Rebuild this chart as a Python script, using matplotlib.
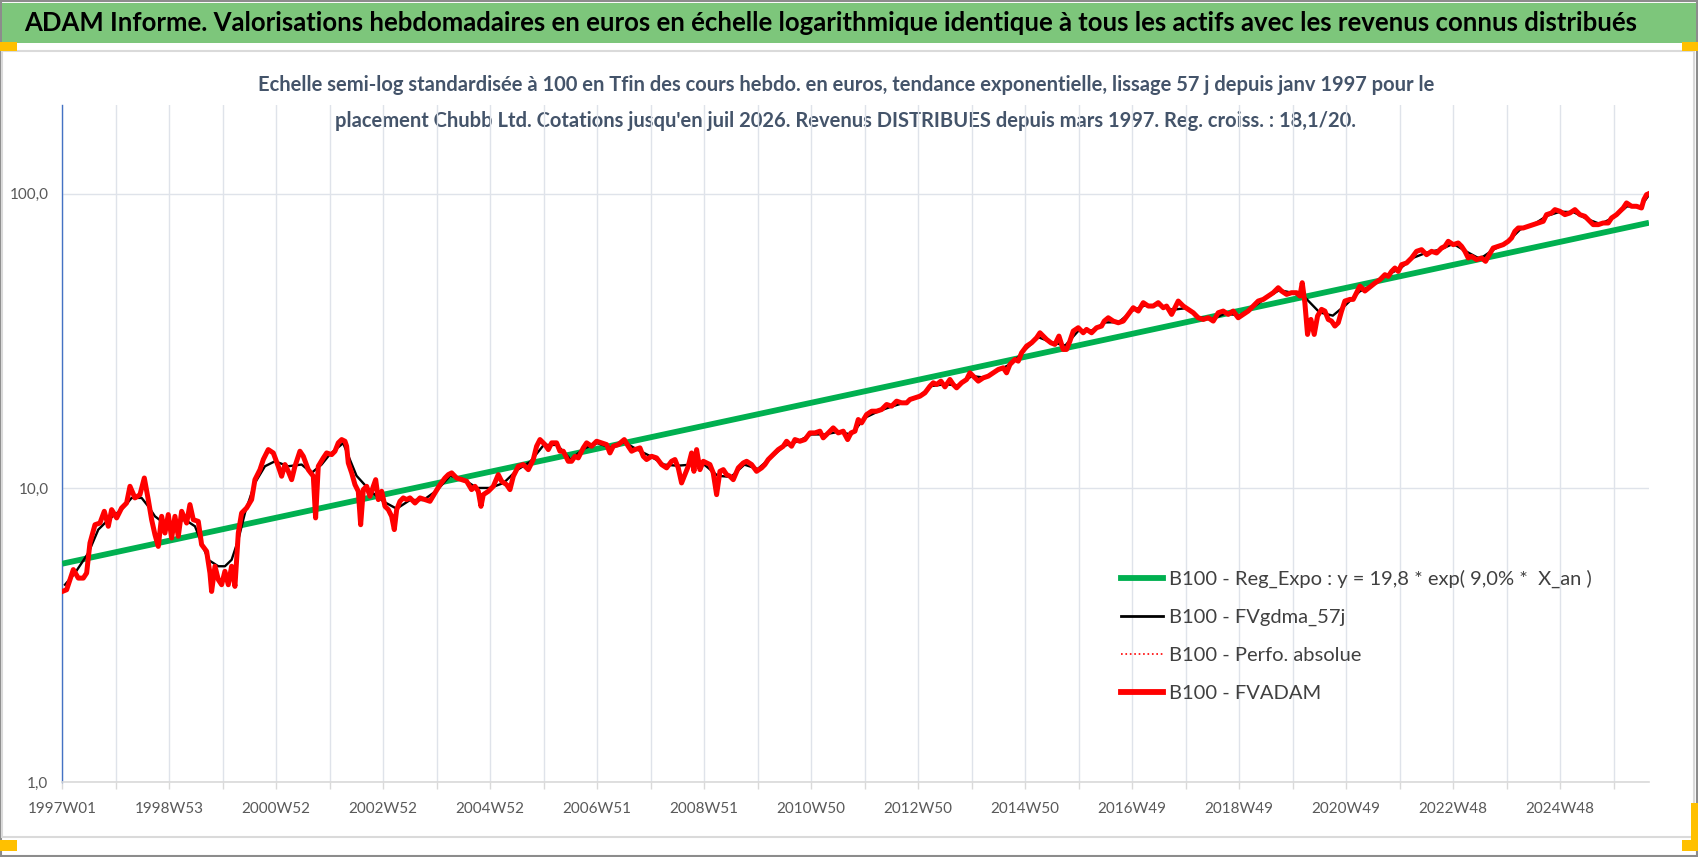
import matplotlib
matplotlib.use("Agg")
import matplotlib.pyplot as plt
from matplotlib.patches import Rectangle
from matplotlib.lines import Line2D

plt.rcParams['font.family'] = ['Lato', 'DejaVu Sans']

# FVADAM readings : years since 1997W01 -> base 100 value
red_t = [0.000, 0.081, 0.206, 0.299, 0.393, 0.455, 0.517, 0.611, 0.704, 0.785, 0.860, 0.922,
         1.016, 1.109, 1.202, 1.265, 1.358, 1.452, 1.533, 1.607, 1.670, 1.732, 1.794, 1.857,
         1.919, 1.981, 2.044, 2.106, 2.168, 2.231, 2.324, 2.386, 2.449, 2.542, 2.604, 2.698,
         2.760, 2.791, 2.854, 2.916, 2.978, 3.040, 3.103, 3.165, 3.227, 3.290, 3.352, 3.445,
         3.539, 3.601, 3.695, 3.757, 3.850, 3.944, 4.037, 4.100, 4.162, 4.224, 4.287, 4.349,
         4.442, 4.505, 4.598, 4.692, 4.735, 4.785, 4.879,
         4.941, 5.035, 5.097, 5.159, 5.222, 5.284, 5.315, 5.346, 5.409, 5.471, 5.533, 5.577,
         5.627, 5.689, 5.752, 5.814, 5.858, 5.907, 5.970, 6.032, 6.094, 6.156, 6.206, 6.250,
         6.312, 6.374, 6.437, 6.499, 6.593, 6.686, 6.780, 6.873, 6.966, 7.060, 7.153, 7.216,
         7.278, 7.371, 7.465, 7.558, 7.651, 7.714, 7.776, 7.826, 7.870, 7.963, 8.057, 8.150,
         8.212, 8.306, 8.368, 8.431, 8.524, 8.617, 8.711, 8.804, 8.866, 8.929, 9.022, 9.085,
         9.147, 9.240, 9.302, 9.365, 9.458, 9.520, 9.583, 9.645, 9.739,
         9.801, 9.894, 9.988, 10.081, 10.175, 10.237, 10.299, 10.393, 10.505, 10.579, 10.642,
         10.704, 10.798, 10.860, 10.922, 11.016, 11.109, 11.202, 11.296, 11.389, 11.452,
         11.514, 11.576, 11.639, 11.701, 11.763, 11.807, 11.857, 11.919, 11.982, 12.044,
         12.106, 12.168, 12.231, 12.293, 12.356, 12.418, 12.480, 12.542, 12.636, 12.729,
         12.792, 12.885, 12.978, 13.072, 13.134, 13.196, 13.290, 13.383, 13.477, 13.539,
         13.632, 13.695, 13.788, 13.882, 13.975, 14.069, 14.162, 14.224, 14.318, 14.411,
         14.505, 14.598,
         14.630, 14.680, 14.743, 14.817, 14.879, 14.942, 15.035, 15.129, 15.222, 15.316,
         15.409, 15.502, 15.596, 15.689, 15.783, 15.845, 15.938, 16.032, 16.125, 16.219,
         16.281, 16.343, 16.424, 16.499, 16.592, 16.655, 16.717, 16.810, 16.904, 16.966,
         17.029, 17.122, 17.215, 17.309, 17.402, 17.496, 17.589, 17.651, 17.714, 17.807,
         17.870, 17.932, 18.025, 18.119, 18.212, 18.275, 18.337, 18.399, 18.480, 18.555,
         18.630, 18.710, 18.773, 18.835, 18.897, 18.991, 19.084, 19.146, 19.240, 19.333,
         19.427, 19.477,
         19.552, 19.645, 19.739, 19.832, 19.926, 20.019, 20.113, 20.206, 20.300, 20.393,
         20.486, 20.580, 20.642, 20.736, 20.798, 20.860, 20.954, 21.047, 21.141, 21.234,
         21.327, 21.421, 21.514, 21.608, 21.701, 21.795, 21.888, 21.981, 22.075, 22.168,
         22.262, 22.355, 22.449, 22.542, 22.636, 22.729, 22.791, 22.885, 22.978, 23.072,
         23.134, 23.178, 23.227, 23.277, 23.340, 23.402, 23.464, 23.539, 23.601, 23.664,
         23.726, 23.788, 23.851, 23.913, 23.975, 24.069, 24.131, 24.193, 24.256, 24.349,
         24.536, 24.630, 24.723, 24.786, 24.848, 24.910, 24.973, 25.035, 25.128, 25.222,
         25.315, 25.409, 25.502, 25.596, 25.689, 25.783, 25.845, 25.907, 26.001, 26.094,
         26.156, 26.219, 26.281, 26.343, 26.437, 26.530, 26.605, 26.655, 26.748, 26.842,
         26.935, 27.029, 27.091, 27.153, 27.216, 27.309, 27.402, 27.496, 27.589, 27.683,
         27.745, 27.838, 27.901, 27.994, 28.088, 28.181, 28.275, 28.368, 28.462, 28.524,
         28.617, 28.711, 28.804, 28.898, 28.960, 29.053, 29.116, 29.178, 29.240, 29.334,
         29.427, 29.520, 29.564, 29.614, 29.657]
red_v = [4.45, 4.51, 5.28, 4.94, 4.94, 5.14, 6.50, 7.50, 7.60, 8.33, 7.41, 8.44,
         7.91, 8.55, 8.89, 10.13, 9.25, 9.49, 10.81, 9.13, 7.80, 6.94, 6.33, 8.01,
         7.03, 8.12, 6.76, 8.01, 6.85, 8.33, 7.60, 8.78, 7.80, 7.70, 6.42, 6.09,
         5.14, 4.45, 5.42, 4.88, 4.69, 5.21, 4.69, 5.42, 4.63, 7.03, 8.22, 8.55,
         9.13, 10.67, 11.54, 12.49, 13.50, 13.15, 11.85, 10.96, 12.01, 11.39, 10.67, 11.85,
         13.33, 12.81, 11.54, 10.96, 7.91, 11.85, 12.65,
         13.15, 12.98, 13.33, 14.23, 14.60, 14.41, 13.86, 12.16, 11.25, 10.26, 9.74, 7.50,
         9.87, 10.13, 9.37, 10.13, 10.67, 9.13, 9.74, 8.66, 8.44, 8.01, 7.22, 8.44,
         9.01, 9.25, 9.13, 9.25, 8.89, 9.25, 9.13, 9.01, 9.62, 10.26, 10.81, 11.10,
         11.25, 10.81, 10.67, 10.54, 9.87, 10.13, 9.74, 8.66, 9.49, 9.74, 10.13, 11.10,
         10.54, 10.26, 9.87, 10.96, 11.85, 12.01, 11.54, 12.49, 13.86, 14.60, 14.04, 13.50,
         14.23, 14.23, 13.33, 13.33, 12.32, 12.32, 12.81, 12.65, 13.68,
         14.23, 13.86, 14.41, 14.23, 14.04, 13.15, 13.86, 14.04, 14.60, 13.86, 13.33,
         13.50, 13.68, 12.81, 12.49, 12.81, 12.65, 12.01, 11.70, 12.32, 12.49,
         11.70, 10.40, 11.10, 11.85, 13.15, 11.39, 13.50, 11.54, 12.32, 12.16,
         12.01, 11.25, 9.49, 11.39, 11.54, 11.10, 10.96, 10.67, 11.70, 12.16,
         12.32, 12.01, 11.39, 11.70, 12.01, 12.49, 12.98, 13.50, 13.86, 14.41,
         13.86, 14.60, 14.41, 14.60, 15.38, 15.38, 15.59, 14.80, 15.38, 16.00,
         15.38, 15.59,
         15.18, 14.60, 15.38, 15.59, 17.08, 16.64, 17.76, 18.23, 18.23, 18.47,
         19.21, 18.96, 19.72, 19.46, 19.46, 19.98, 20.24, 20.50, 21.04, 22.17,
         22.76, 22.46, 23.06, 22.05, 23.36, 22.46, 21.88, 22.76, 23.36, 24.61,
         23.98, 23.06, 23.66, 23.98, 24.61, 25.26, 25.59, 24.61, 26.27, 27.32,
         26.97, 28.79, 30.33, 31.13, 32.37, 33.67, 32.81, 31.96, 31.13, 30.74,
         32.81, 29.55, 29.55, 31.54, 34.11, 35.02, 33.67, 34.56, 33.67, 35.02,
         35.48, 36.89,
         37.86, 36.89, 36.41, 36.89, 38.87, 40.95, 39.90, 42.60, 41.49, 41.49,
         42.60, 40.95, 41.49, 38.87, 40.95, 43.15, 41.49, 40.43, 39.38, 37.86,
         37.37, 37.86, 36.89, 39.38, 39.90, 38.87, 39.90, 37.86, 38.87, 39.90,
         41.49, 43.15, 43.71, 44.87, 46.06, 47.89, 46.67, 45.46, 46.06, 46.06,
         44.87, 49.81, 42.60, 33.23, 37.37, 33.23, 38.37, 40.43, 39.90, 37.37,
         36.89, 35.48, 36.41, 39.90, 43.15, 43.71, 43.71, 46.06, 48.52, 46.67,
         49.67, 50.99, 53.03, 52.34, 54.43, 55.87, 54.43, 57.35, 58.11, 60.43,
         63.67, 64.50, 62.02, 63.67, 62.84, 65.35, 66.22, 68.86, 67.08, 67.97,
         66.22, 63.67, 60.43, 61.21, 59.64, 60.43, 58.87, 61.21, 65.35, 66.22,
         67.08, 68.86, 70.68, 74.46, 76.42, 76.42, 77.43, 78.45, 79.47, 80.52,
         84.83, 85.94, 88.22, 87.08, 84.83, 85.94, 88.22, 84.83, 83.72, 81.57,
         78.45, 78.45, 79.47, 79.47, 82.64, 84.83, 87.08, 89.36, 92.96, 90.56,
         90.56, 89.36, 95.41, 99.2, 100.0]

# FVgdma_57j (black, smoothed) readings
black_t = [0.05, 0.237, 0.486, 0.673, 0.860, 1.109, 1.296, 1.483, 1.607, 1.732, 1.857, 2.044,
           2.293, 2.480, 2.604, 2.729, 2.916, 3.040, 3.165, 3.290, 3.414, 3.601, 3.788, 3.975,
           4.224, 4.474, 4.660, 4.847, 5.0, 5.25, 5.5, 5.75, 6.0, 6.25, 6.5, 6.75, 7.0, 7.25,
           7.5, 7.75, 8.0, 8.25, 8.5, 8.75, 9.0, 9.25, 9.5, 9.75, 10.0, 10.25, 10.5, 10.75,
           11.0, 11.25, 11.5, 11.75, 12.0, 12.25, 12.5, 12.75, 13.0, 13.25, 13.5, 13.75, 14.0,
           14.25, 14.5, 14.75, 15.0, 15.25, 15.5, 15.75, 16.0, 16.25, 16.5, 16.75, 17.0, 17.25,
           17.5, 17.75, 18.0, 18.25, 18.5, 18.75, 19.0, 19.25, 19.5, 19.75, 20.0, 20.25, 20.5,
           20.75, 21.0, 21.25, 21.5, 21.75, 22.0, 22.25, 22.5, 22.75, 23.0, 23.25, 23.5, 23.75,
           24.0, 24.25, 24.5, 24.75, 25.0, 25.25, 25.5, 25.75, 26.0, 26.25, 26.5, 26.75, 27.0,
           27.25, 27.5, 27.75, 28.0, 28.25, 28.5, 28.75, 29.0, 29.25, 29.5, 29.66]
black_v = [4.69, 5.14, 6.01, 7.22, 7.80, 8.44, 9.25, 9.25, 8.66, 8.01, 7.70, 7.60,
           7.80, 7.41, 6.50, 5.70, 5.42, 5.42, 5.70, 6.67, 8.22, 10.40, 11.85, 12.32,
           11.85, 12.01, 11.25, 12.01, 13.0, 14.2, 11.0, 9.8, 9.0, 8.5, 9.1, 9.1, 9.8, 11.0,
           10.7, 10.0, 10.0, 10.4, 11.5, 12.3, 14.0, 14.0, 12.5, 13.6, 14.2, 13.7, 14.3, 13.5,
           12.8, 12.0, 11.9, 12.0, 12.0, 11.0, 10.9, 12.0, 11.6, 12.7, 13.9, 14.4, 15.2,
           15.2, 15.5, 15.2, 17.3, 18.2, 18.9, 19.5, 20.4, 22.2, 22.5, 22.3, 24.0, 23.7,
           25.1, 26.5, 29.5, 32.5, 31.2, 30.5, 34.3, 34.3, 36.5, 36.6, 40.0, 41.8, 41.8,
           40.3, 40.8, 38.0, 37.5, 39.2, 38.5, 41.0, 44.2, 47.0, 46.0, 44.0, 39.5, 38.5,
           42.0, 46.5, 49.0, 52.8, 55.5, 60.5, 63.0, 64.5, 67.5, 63.5, 60.0, 64.5, 68.0,
           75.5, 78.5, 84.0, 86.8, 86.5, 82.0, 78.8, 83.0, 90.5, 90.0, 99.0]

# Reg_Expo end points (straight line on the log scale)
reg_t = [0.0, 29.66]
reg_v = [5.53, 79.6]

tick_years = list(range(1997, 2027))
tick_labels = ['1997W01', '1998W53', '2000W52', '2002W52', '2004W52', '2006W51', '2008W51',
               '2010W50', '2012W50', '2014W50', '2016W49', '2018W49', '2020W49', '2022W48',
               '2024W48']

title = ("ADAM Informe. Valorisations hebdomadaires en euros en échelle logarithmique "
         "identique à tous les actifs avec les revenus connus distribués")
subtitle = ("Echelle semi-log standardisée à 100 en Tfin des cours hebdo. en euros, tendance "
            "exponentielle, lissage 57 j depuis janv 1997 pour le\nplacement Chubb Ltd. "
            "Cotations jusqu'en juil 2026. Revenus DISTRIBUES depuis mars 1997. Reg. croiss. : 18,1/20.")

W, H = 1698, 857
fig = plt.figure(figsize=(W / 100, H / 100), dpi=100)
fig.patch.set_facecolor('white')

# frame, title band, selection handles
bg = fig.add_axes([0, 0, 1, 1], zorder=0)
bg.set_xlim(0, W)
bg.set_ylim(H, 0)
bg.axis('off')
bg.add_patch(Rectangle((1, 1), W - 2, H - 2, fill=False, ec='#8c8c8c', lw=1.5))
bg.add_patch(Rectangle((2, 3), W - 4, 40, fc='#7dc67b', ec='none'))
bg.add_patch(Rectangle((2, 51), W - 6, 786, fill=False, ec='#dadada', lw=1.5))
for x0, y0, w0, h0 in [(0, 42, 17, 9), (W - 16, 42, 16, 9), (0, 840, 17, 11),
                       (W - 16, 840, 16, 11), (W - 7, 803, 7, 40)]:
    bg.add_patch(Rectangle((x0, y0), w0, h0, fc='#ffc000', ec='none'))
bg.text(24, 23, title, fontsize=18.5, fontweight='bold', color='black', va='center', ha='left')
bg.text(846, 103, subtitle, fontsize=14.5, fontweight='bold', color='#44546a',
        va='center', ha='center', linespacing=1.95)

ax = fig.add_axes([62.3 / W, 74.7 / H, (1649 - 62.3) / W, (782.3 - 105) / H], zorder=1)
ax.patch.set_alpha(0)

reg_x = [1997 + t for t in reg_t]
red_x = [1997 + t for t in red_t]
black_x = [1997 + t for t in black_t]
ax.plot(reg_x, reg_v, color='#00b050', lw=4.2, solid_capstyle='butt', zorder=3)
ax.plot(black_x, black_v, color='black', lw=1.7, zorder=4)
ax.plot(red_x, red_v, color='red', lw=1, ls=':', zorder=5)
ax.plot(red_x, red_v, color='red', lw=3.6, zorder=6)

ax.set_yscale('log')
ax.set_ylim(1, 200)
ax.set_xlim(1997, 1997 + 29.66)
ax.set_yticks([1, 10, 100])
ax.set_yticklabels(['1,0', '10,0', '100,0'])
ax.yaxis.set_minor_locator(matplotlib.ticker.NullLocator())
ax.set_xticks(tick_years)
ax.set_xticklabels([tick_labels[i // 2] if i % 2 == 0 else '' for i in range(len(tick_years))])
ax.tick_params(axis='y', length=0, pad=10, labelsize=11, labelcolor='#595959')
ax.tick_params(axis='x', length=5, width=1, color='#d9d9d9', pad=9, labelsize=11,
               labelcolor='#595959')
ax.grid(True, color='#dfe3ea', lw=1)
ax.set_axisbelow(True)
for s in ['top', 'right']:
    ax.spines[s].set_visible(False)
ax.spines['left'].set_color('#4472c4')
ax.spines['left'].set_linewidth(1)
ax.spines['bottom'].set_color('#d9d9d9')
ax.spines['bottom'].set_linewidth(1.2)

handles = [Line2D([], [], color='#00b050', lw=4.2),
           Line2D([], [], color='black', lw=2),
           Line2D([], [], color='red', lw=1.2, ls=':'),
           Line2D([], [], color='red', lw=4.2)]
labels = ['B100 - Reg_Expo : y = 19,8 * exp( 9,0% *  X_an )',
          'B100 - FVgdma_57j',
          'B100 - Perfo. absolue',
          'B100 - FVADAM']
fig.legend(handles, labels, loc='upper left', bbox_to_anchor=(1121 / W, 1 - 570 / H),
           frameon=False, fontsize=14.5, handlelength=2.1, handletextpad=0.28,
           labelspacing=1.03, borderpad=0, borderaxespad=0, labelcolor='#404040')

fig.savefig('out.png', dpi=100)
